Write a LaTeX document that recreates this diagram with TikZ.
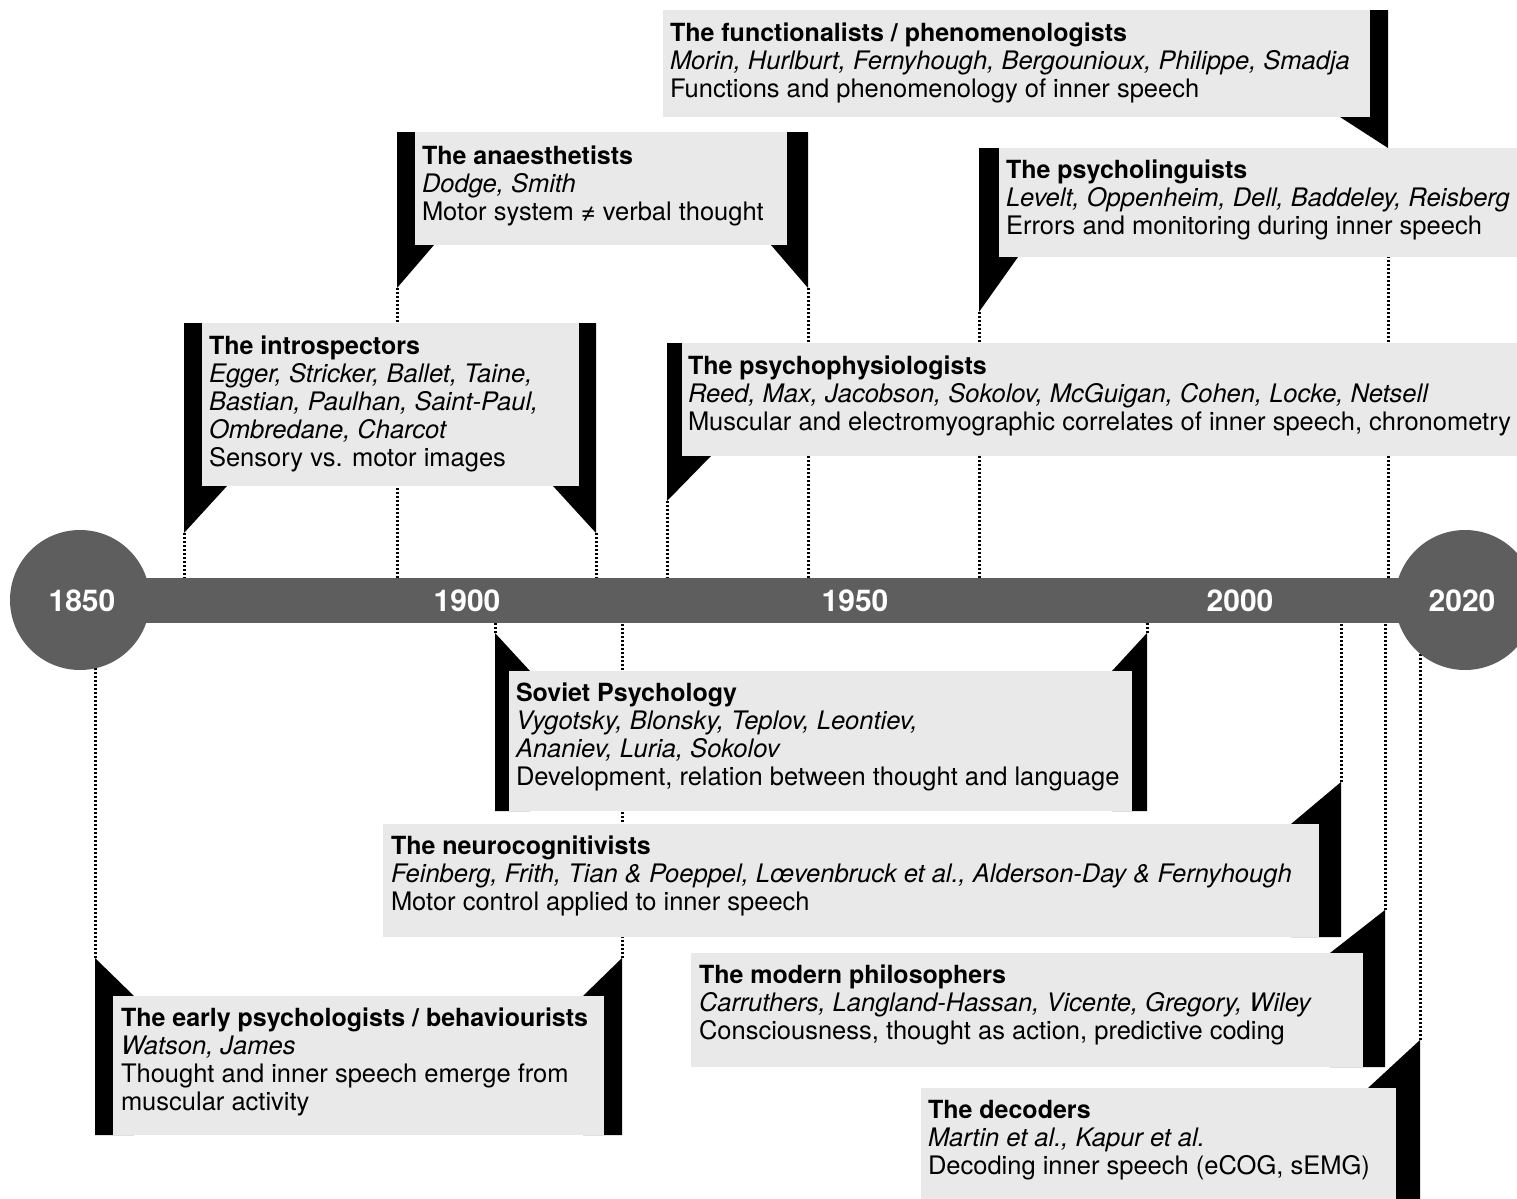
\documentclass[tikz,border=0pt]{standalone}
\usepackage{fontspec}
\setmainfont{TeX Gyre Heros}
\usetikzlibrary{calc,fit,backgrounds}
\definecolor{barcol}{HTML}{5E5E5E}
\definecolor{boxcol}{HTML}{E9E9E9}
\newcommand{\grouptitle}[1]{{\fontsize{12.5}{14}\selectfont\bfseries #1}}
\tikzset{
    panel/.style = {fill=boxcol, inner sep=0pt},
    paneltext/.style = {anchor=north west, align=left, inner sep=0pt,
        font=\fontsize{12.75}{14}\selectfont},
    endcap/.style = {circle, fill=barcol, minimum size=70pt, inner sep=0pt},
    year/.style = {text=white, inner sep=0pt, font=\fontsize{15}{18}\selectfont\bfseries},
    yearline/.style = {line width=1.5pt, dash pattern=on 1.2pt off 0.8pt}
}
\begin{document}
\begin{tikzpicture}[x=0.5pt, y=-0.5pt]
    \useasboundingbox (0,0) rectangle (1517,1199);
    \clip (0,0) rectangle (1517,1199);
    % time line
    \node [endcap] (c1850) at (80,600) {};
    \node [endcap] (c2020) at (1465,600) {};
    \fill [barcol] ($(c1850.center)+(0,-22.5)$) rectangle ($(c2020.center)+(0,22.5)$);
    \node [year] (y1850) at (82,601) {1850};
    \node [year] (y1900) at (467,601) {1900};
    \node [year] (y1950) at (855,601) {1950};
    \node [year] (y2000) at (1240,601) {2000};
    \node [year] (y2020) at (1462,601) {2020};
    % flags above the line
    \fill (184,323) -- (184,533) coordinate (introL) -- (227,486) -- (227,323) -- cycle;
    \fill (596,323) -- (596,533) coordinate (introR) -- (553,486) -- (553,323) -- cycle;
    \fill (397,132) -- (397,288) coordinate (anaeL) -- (434,245) -- (434,132) -- cycle;
    \fill (808,132) -- (808,288) coordinate (anaeR) -- (771,245) -- (771,132) -- cycle;
    \fill (1388,10) -- (1388,148) coordinate (functR) -- (1340,117) -- (1340,10) -- cycle;
    \fill (979,148) -- (979,312) coordinate (lingL) -- (1018,257) -- (1018,148) -- cycle;
    \fill (667,343) -- (667,501) coordinate (physL) -- (711,456) -- (711,343) -- cycle;
    % flags below the line
    \fill (95,1135) -- (95,958) coordinate (earlyL) -- (134,996) -- (134,1135) -- cycle;
    \fill (622,1135) -- (622,958) coordinate (earlyR) -- (583,996) -- (583,1135) -- cycle;
    \fill (495,811) -- (495,633) coordinate (sovL) -- (530,671) -- (530,811) -- cycle;
    \fill (1147,811) -- (1147,633) coordinate (sovR) -- (1112,671) -- (1112,811) -- cycle;
    \fill (1341,937) -- (1341,782) coordinate (neuroR) -- (1291,824) -- (1291,937) -- cycle;
    \fill (1385,1067) -- (1385,910) coordinate (philR) -- (1330,953) -- (1330,1067) -- cycle;
    \fill (1420,1199) -- (1420,1040) coordinate (decR) -- (1368,1088) -- (1368,1199) -- cycle;
    % boxes above
    \node [panel, fit={(202,323) (579,486)}] (intro) {};
    \node [paneltext] (introtxt) at ($(intro.north west)+(7,13)$) {\grouptitle{The introspectors}\\
        \textit{Egger, Stricker, Ballet, Taine,}\\ \textit{Bastian, Paulhan, Saint-Paul,}\\
        \textit{Ombredane, Charcot}\\ Sensory vs. motor images};
    \node [panel, fit={(415,132) (787,245)}] (anae) {};
    \node [paneltext] (anaetxt) at ($(anae.north west)+(7,14)$) {\grouptitle{The anaesthetists}\\
        \textit{Dodge, Smith}\\ Motor system ≠ verbal thought};
    \node [panel, fit={(663,10) (1370,117)}] (funct) {};
    \node [paneltext] (functtxt) at ($(funct.north west)+(7,13)$) {\grouptitle{The functionalists / phenomenologists}\\
        \textit{Morin, Hurlburt, Fernyhough, Bergounioux, Philippe, Smadja}\\ Functions and phenomenology of inner speech};
    \node [panel, fit={(999,148) (1530,257)}] (ling) {};
    \node [paneltext] (lingtxt) at ($(ling.north west)+(7,12)$) {\grouptitle{The psycholinguists}\\
        \textit{Levelt, Oppenheim, Dell, Baddeley, Reisberg}\\ Errors and monitoring during inner speech};
    \node [panel, fit={(682,343) (1530,456)}] (phys) {};
    \node [paneltext] (physttxt) at ($(phys.north west)+(6,13)$) {\grouptitle{The psychophysiologists}\\
        \textit{Reed, Max, Jacobson, Sokolov, McGuigan, Cohen, Locke, Netsell}\\
        Muscular and electromyographic correlates of inner speech, chronometry};
    % boxes below
    \node [panel, fit={(113,996) (604,1135)}] (early) {};
    \node [paneltext] (earlytxt) at ($(early.north west)+(8,12)$) {\grouptitle{The early psychologists / behaviourists}\\
        \textit{Watson, James}\\ Thought and inner speech emerge from\\ muscular activity};
    \node [panel, fit={(509,671) (1132,811)}] (sov) {};
    \node [paneltext] (sovtxt) at ($(sov.north west)+(7,12)$) {\grouptitle{Soviet Psychology}\\
        \textit{Vygotsky, Blonsky, Teplov, Leontiev,}\\ \textit{Ananiev, Luria, Sokolov}\\
        Development, relation between thought and language};
    \node [panel, fit={(383,824) (1319,937)}] (neuro) {};
    \node [paneltext] (neurotxt) at ($(neuro.north west)+(8,12)$) {\grouptitle{The neurocognitivists}\\
        \textit{Feinberg, Frith, Tian \& Poeppel, Lœvenbruck et al., Alderson-Day \& Fernyhough}\\
        Motor control applied to inner speech};
    \node [panel, fit={(691,953) (1363,1067)}] (phil) {};
    \node [paneltext] (philtxt) at ($(phil.north west)+(8,12)$) {\grouptitle{The modern philosophers}\\
        \textit{Carruthers, Langland-Hassan, Vicente, Gregory, Wiley}\\
        Consciousness, thought as action, predictive coding};
    \node [panel, fit={(921,1088) (1396,1210)}] (dec) {};
    \node [paneltext] (dectxt) at ($(dec.north west)+(7,12)$) {\grouptitle{The decoders}\\
        \textit{Martin et al., Kapur et al.}\\ Decoding inner speech (eCOG, sEMG)};
    % dotted year lines, behind everything
    \begin{scope}[on background layer]
        \draw [yearline] (introL) -- (introL |- c1850.center);
        \draw [yearline] (introR) -- (introR |- c1850.center);
        \draw [yearline] (anaeL) -- (anaeL |- c1850.center);
        \draw [yearline] (anaeR) -- (anaeR |- c1850.center);
        \draw [yearline] (functR) -- (functR |- c1850.center);
        \draw [yearline] (lingL) -- (lingL |- c1850.center);
        \draw [yearline] (physL) -- (physL |- c1850.center);
        \draw [yearline] (earlyL) -- (earlyL |- c1850.center);
        \draw [yearline] (earlyR) -- (earlyR |- c1850.center);
        \draw [yearline] (sovL) -- (sovL |- c1850.center);
        \draw [yearline] (sovR) -- (sovR |- c1850.center);
        \draw [yearline] (neuroR) -- (neuroR |- c1850.center);
        \draw [yearline] (philR) -- (philR |- c1850.center);
        \draw [yearline] (decR) -- (decR |- c1850.center);
    \end{scope}
\end{tikzpicture}
\end{document}
